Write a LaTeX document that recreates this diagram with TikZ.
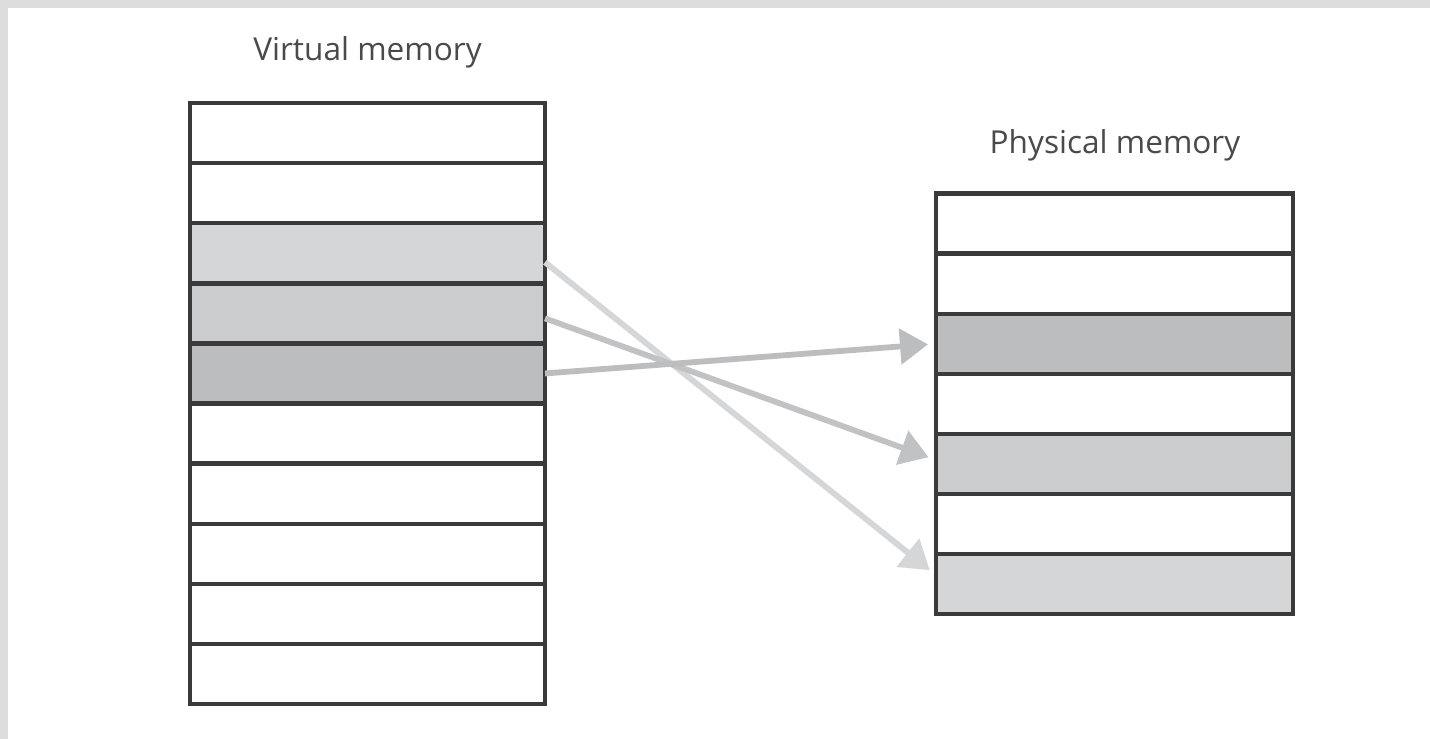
\documentclass[tikz,border=0pt]{standalone}
\usepackage{fontspec}
\setmainfont{Open Sans}
\usetikzlibrary{arrows.meta}
\definecolor{pageframe}{HTML}{DDDDDD}
\definecolor{cellline}{HTML}{3A3A3A}
\definecolor{lightcell}{HTML}{D5D6D8}
\definecolor{midcell}{HTML}{CBCCCD}
\definecolor{darkcell}{HTML}{BCBDBF}
\definecolor{titletext}{HTML}{4A4A4A}

\begin{document}
\begin{tikzpicture}[x=0.5pt, y=-0.5pt,
	cell/.style={draw=cellline, line width=2.2pt, minimum height=30.05pt, inner sep=0pt, outer sep=0pt},
	memtitle/.style={anchor=base, text=titletext, font=\fontsize{15.8pt}{19pt}\selectfont},
	maparrow/.style={line width=2.9pt, -{Triangle[length=14pt, width=17.5pt]}, shorten >=4pt}]
		%%%%% START %%%%%
		
		\fill[white] (0, 0) rectangle (1430, 739);
		\useasboundingbox (0, 0) rectangle (1430, 739);
		\fill[pageframe] (0, 0) rectangle (1430, 8);
		\fill[pageframe] (0, 0) rectangle (8, 739);
		
		% virtual memory, ten pages
		\node[memtitle] (vtitle) at (367.5, 61) {Virtual memory};
		\foreach \i/\c in {1/white, 2/white, 3/lightcell, 4/midcell, 5/darkcell, 6/white, 7/white, 8/white, 9/white, 10/white}
			\node[cell, fill=\c, minimum width=177.5pt] (v\i) at (367.5, {103 + 60.1*(\i - 0.5)}) {};
		
		% physical memory, seven frames
		\node[memtitle] (ptitle) at (1115, 153) {Physical memory};
		\foreach \i/\c in {1/white, 2/white, 3/darkcell, 4/white, 5/midcell, 6/white, 7/lightcell}
			\node[cell, fill=\c, minimum width=178.5pt] (p\i) at (1114.5, {193.5 + 60.1*(\i - 0.5)}) {};
		
		\draw[maparrow, color=lightcell] ([yshift=-4.5pt]v3.east) -- ([yshift=4.5pt]p7.west);
		\draw[maparrow, color=midcell!95!black] ([yshift=-2.5pt]v4.east) -- ([yshift=2pt]p5.west);
		\draw[maparrow, color=darkcell] (v5.east) -- (p3.west);
		
		%%%%% END %%%%%
	\end{tikzpicture}
\end{document}
